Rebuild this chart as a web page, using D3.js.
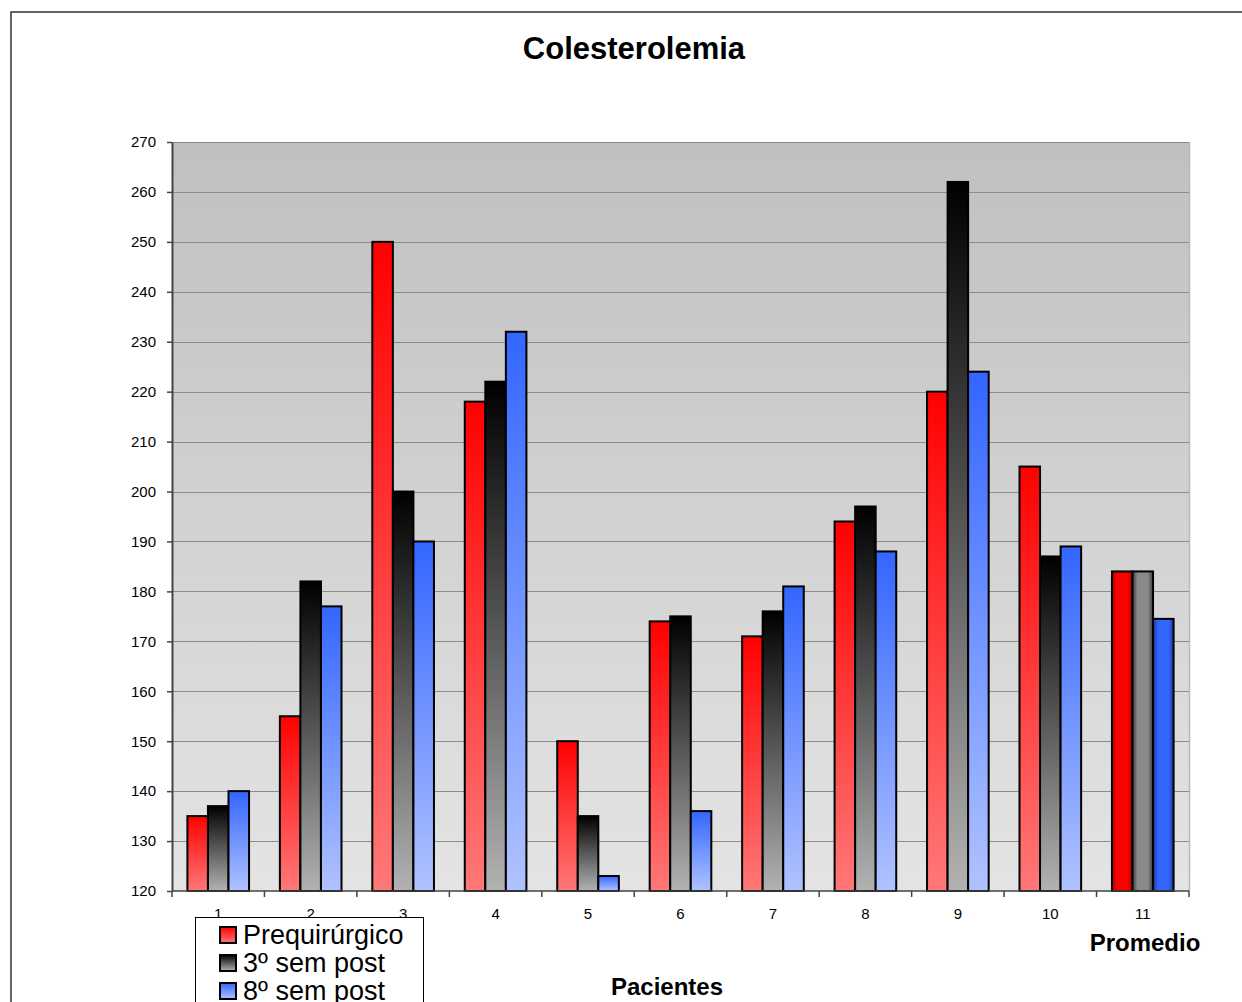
<!DOCTYPE html>
<html>
<head>
<meta charset="utf-8">
<script src="https://cdn.jsdelivr.net/npm/d3@7"></script>
<style>
  html, body { margin: 0; padding: 0; background: #fff; }
  svg { display: block; font-family: "Liberation Sans", Arial, sans-serif; }
</style>
</head>
<body>
<svg id="chart" width="1242" height="1002"></svg>
<script>
// Patients 1-10 plus the average (11)
const categories = ["1", "2", "3", "4", "5", "6", "7", "8", "9", "10", "11"];
const seriesNames = ["Prequirúrgico", "3º sem post", "8º sem post"];
const prequirurgico = [135, 155, 250, 218, 150, 174, 171, 194, 220, 205, 184];
const sem3 = [137, 182, 200, 222, 135, 175, 176, 197, 262, 187, 184];
const sem8 = [140, 177, 190, 232, 123, 136, 181, 188, 224, 189, 174.5];
const yTicks = [120, 130, 140, 150, 160, 170, 180, 190, 200, 210, 220, 230, 240, 250, 260, 270];

const series = [prequirurgico, sem3, sem8];
const svg = d3.select("#chart");

const plot = { left: 172, right: 1189, top: 142, bottom: 891 };

const x = d3.scaleBand().domain(categories).range([plot.left, plot.right]).paddingInner(0).paddingOuter(0);
const barBand = x.bandwidth() / 4.5;           // three bars + 150% gap
const xSeries = d3.scaleBand().domain([0, 1, 2]).range([0, barBand * 3]);
const y = d3.scaleLinear().domain([120, 270]).range([plot.bottom, plot.top]);

const defs = svg.append("defs");

// plot area background
const bg = defs.append("linearGradient").attr("id", "bgGrad").attr("x1", 0).attr("y1", 0).attr("x2", 0).attr("y2", 1);
bg.append("stop").attr("offset", 0).attr("stop-color", "#c0c0c0");
bg.append("stop").attr("offset", 1).attr("stop-color", "#e4e4e4");

// vertical fills for patient bars
const vStops = [["#ff0000", "#ff7878"], ["#000000", "#b2b2b2"], ["#3366ff", "#b0c2ff"]];
vStops.forEach((s, i) => {
  const g = defs.append("linearGradient").attr("id", "v" + i).attr("x1", 0).attr("y1", 0).attr("x2", 0).attr("y2", 1);
  g.append("stop").attr("offset", 0).attr("stop-color", s[0]);
  g.append("stop").attr("offset", 1).attr("stop-color", s[1]);
});
// horizontal shaded fills for the average bars
const hStops = [["#b00000", "#ff0000"], ["#3a3a3a", "#8a8a8a"], ["#1e3c9a", "#3366ff"]];
hStops.forEach((s, i) => {
  const g = defs.append("linearGradient").attr("id", "h" + i).attr("x1", 0).attr("y1", 0).attr("x2", 1).attr("y2", 0);
  g.append("stop").attr("offset", 0).attr("stop-color", s[0]);
  g.append("stop").attr("offset", 0.25).attr("stop-color", s[1]);
  g.append("stop").attr("offset", 0.75).attr("stop-color", s[1]);
  g.append("stop").attr("offset", 1).attr("stop-color", s[0]);
});

// outer frame
svg.append("rect").attr("x", 11).attr("y", 12).attr("width", 1250).attr("height", 1010)
  .attr("fill", "#fff").attr("stroke", "#333").attr("stroke-width", 1.5);

// title
svg.append("text").attr("x", 634).attr("y", 59).attr("text-anchor", "middle")
  .attr("font-size", 31).attr("font-weight", "bold").text("Colesterolemia");

// plot area
svg.append("rect").attr("x", plot.left).attr("y", plot.top)
  .attr("width", plot.right - plot.left).attr("height", plot.bottom - plot.top)
  .attr("fill", "url(#bgGrad)");
svg.append("line").attr("x1", plot.right + 0.5).attr("x2", plot.right + 0.5)
  .attr("y1", plot.top).attr("y2", plot.bottom).attr("stroke", "#b8b8b8").attr("stroke-width", 1.5);

// gridlines
svg.append("g").selectAll("line").data(yTicks.filter(t => t > 120)).join("line")
  .attr("x1", plot.left).attr("x2", plot.right)
  .attr("y1", d => Math.round(y(d)) + 0.5).attr("y2", d => Math.round(y(d)) + 0.5)
  .attr("stroke", "#8c8c8c").attr("stroke-width", 1);

// bars
const groups = svg.append("g").selectAll("g").data(categories).join("g")
  .attr("transform", d => `translate(${x(d) + barBand * 0.75},0)`);
groups.selectAll("rect").data((d, ci) => series.map((s, si) => ({ si, ci, v: s[ci] }))).join("rect")
  .attr("x", d => xSeries(d.si))
  .attr("width", xSeries.bandwidth())
  .attr("y", d => y(d.v))
  .attr("height", d => y(120) - y(d.v))
  .attr("fill", d => d.ci === categories.length - 1 ? `url(#h${d.si})` : `url(#v${d.si})`)
  .attr("stroke", "#000").attr("stroke-width", 2);

// y axis
const yAxis = svg.append("g").attr("transform", `translate(${plot.left},0)`)
  .call(d3.axisLeft(y).tickValues(yTicks).tickSize(5).tickSizeOuter(0).tickPadding(11));
yAxis.select(".domain").attr("stroke", "#444").attr("stroke-width", 2);
yAxis.selectAll(".tick line").attr("stroke", "#444").attr("stroke-width", 1.5);
yAxis.selectAll("text").attr("font-size", 15).attr("fill", "#000")
  .attr("font-family", "Liberation Sans, Arial, sans-serif");

// x axis: ticks at category boundaries
const xAxisG = svg.append("g").attr("transform", `translate(0,${plot.bottom})`);
xAxisG.append("line").attr("x1", plot.left).attr("x2", plot.right).attr("y1", 0).attr("y2", 0)
  .attr("stroke", "#444").attr("stroke-width", 1.5);
xAxisG.selectAll("line.tk").data(categories.concat(["end"])).join("line").attr("class", "tk")
  .attr("x1", d => d === "end" ? plot.right : x(d)).attr("x2", d => d === "end" ? plot.right : x(d))
  .attr("y1", 0).attr("y2", 6).attr("stroke", "#444").attr("stroke-width", 1.5);
xAxisG.selectAll("text").data(categories).join("text")
  .attr("x", d => x(d) + x.bandwidth() / 2).attr("y", 28)
  .attr("text-anchor", "middle").attr("font-size", 15).text(d => d);

// axis titles
svg.append("text").attr("x", 667).attr("y", 995).attr("text-anchor", "middle")
  .attr("font-size", 24).attr("font-weight", "bold").text("Pacientes");
svg.append("text").attr("x", 1145).attr("y", 951).attr("text-anchor", "middle")
  .attr("font-size", 24).attr("font-weight", "bold").text("Promedio");

// legend
const legend = svg.append("g");
legend.append("rect").attr("x", 195.5).attr("y", 917.5).attr("width", 228).attr("height", 100)
  .attr("fill", "#fff").attr("stroke", "#000").attr("stroke-width", 1);
const items = legend.selectAll("g").data(seriesNames).join("g")
  .attr("transform", (d, i) => `translate(0,${935 + i * 28})`);
items.append("rect").attr("x", 220).attr("y", -8).attr("width", 16).attr("height", 16)
  .attr("fill", (d, i) => `url(#v${i})`).attr("stroke", "#000").attr("stroke-width", 2);
items.append("text").attr("x", 243).attr("y", 9).attr("font-size", 27).text(d => d);
</script>
</body>
</html>
